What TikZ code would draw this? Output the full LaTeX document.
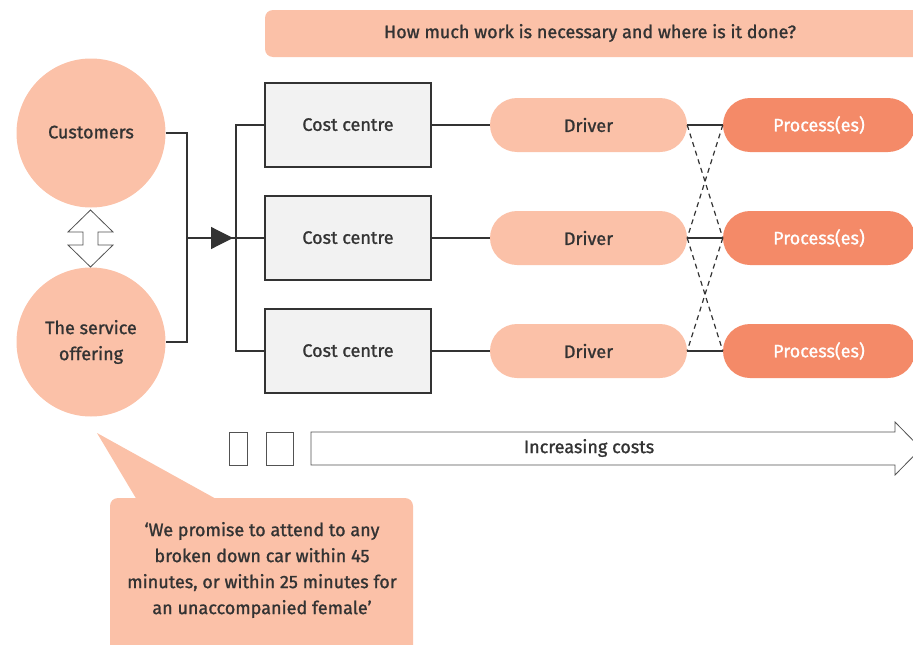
\documentclass[tikz,border=0pt]{standalone}
\usepackage{fontspec}
\setmainfont{Fira Sans}[FakeBold=1.2]
\usetikzlibrary{arrows.meta}
\definecolor{peach}{HTML}{FBC1A8}
\definecolor{coral}{HTML}{F48A68}
\definecolor{ink}{HTML}{333333}
\definecolor{boxgray}{HTML}{F2F2F2}

\begin{document}
\begin{tikzpicture}[x=1pt,y=-1pt,
  txt/.style={font=\fontsize{18}{26}\selectfont, text=ink},
  bubble/.style={circle, fill=peach, minimum size=149pt, inner sep=0pt, txt, align=center},
  costbox/.style={draw=ink, line width=1.2pt, fill=boxgray, minimum width=166pt, minimum height=84pt, inner sep=0pt, txt},
  driver/.style={fill=peach, rounded corners=27pt, minimum width=197pt, minimum height=54pt, inner sep=0pt, txt},
  process/.style={fill=coral, rounded corners=27pt, minimum width=192pt, minimum height=54pt, inner sep=0pt, txt, text=white},
  link/.style={draw=ink, line width=1.2pt},
  cross/.style={draw=ink, line width=1.2pt, dash pattern=on 5pt off 4pt},
  outline/.style={draw=ink!85, line width=0.8pt, fill=white}
]
\useasboundingbox (0,0) rectangle (913,645);

% question banner
\path[fill=peach, rounded corners=8pt] (265,10) rectangle (935,57);
\node[txt] (question) at (590,33) {How much work is necessary and where is it done?};

% customers and the service offering
\node[bubble] (cust) at (91,133) {\raisebox{2pt}{Customers}};
\node[bubble] (serv) at (91,342) {The service\\offering};
\draw[outline] (90.5,210) -- (113,232) -- (98,232) -- (98,245) -- (113,245) -- (90.5,267)
  -- (68,245) -- (83,245) -- (83,232) -- (68,232) -- cycle;

% cost centres, drivers and processes
\foreach \i/\y in {1/125,2/238,3/351}{
  \node[costbox] (cc\i) at (348,\y) {\raisebox{1pt}{Cost centre}};
  \node[driver] (dr\i) at (588.5,\y) {Driver};
  \node[process] (pr\i) at (819,\y) {Process(es)};
  \draw[link] (cc\i.east) -- (dr\i.west);
  \draw[link] (dr\i.east) -- (pr\i.west);
}
\foreach \a/\b in {1/2,2/3}{
  \draw[cross] (dr\a.east) -- (pr\b.west);
  \draw[cross] (pr\a.west) -- (dr\b.east);
}

% connectors into the cost centres
\coordinate (join) at (187,238);
\coordinate (bus) at (236,238);
\draw[link] (cust.east) -| (join) |- (serv.east);
\draw[link] (join) -- (bus);
\draw[link, -{Triangle[length=22pt,width=22pt]}, shorten >=3pt] (join) -- (bus);
\draw[link] (cc1.west) -| (bus) |- (cc3.west);
\draw[link] (bus) -- (cc2.west);

% increasing costs arrow
\draw[outline] (229,432) rectangle (247,465);
\draw[outline] (266,432) rectangle (293,465);
\draw[outline] (311,432) -- (895,432) -- (895,422) -- (921,448.5) -- (895,475) -- (895,465) -- (311,465) -- cycle;
\node[txt] (costs) at (589,448) {Increasing costs};

% promise callout
\fill[peach] (97,433) -- (137,500) -- (218,500) -- cycle;
\fill[peach, rounded corners=8pt] (110,498) rectangle (413,670);
\node[txt, align=center] (promise) at (262,570) {`We promise to attend to any\\broken down car within 45\\minutes, or within 25 minutes for\\an unaccompanied female'};
\end{tikzpicture}
\end{document}
